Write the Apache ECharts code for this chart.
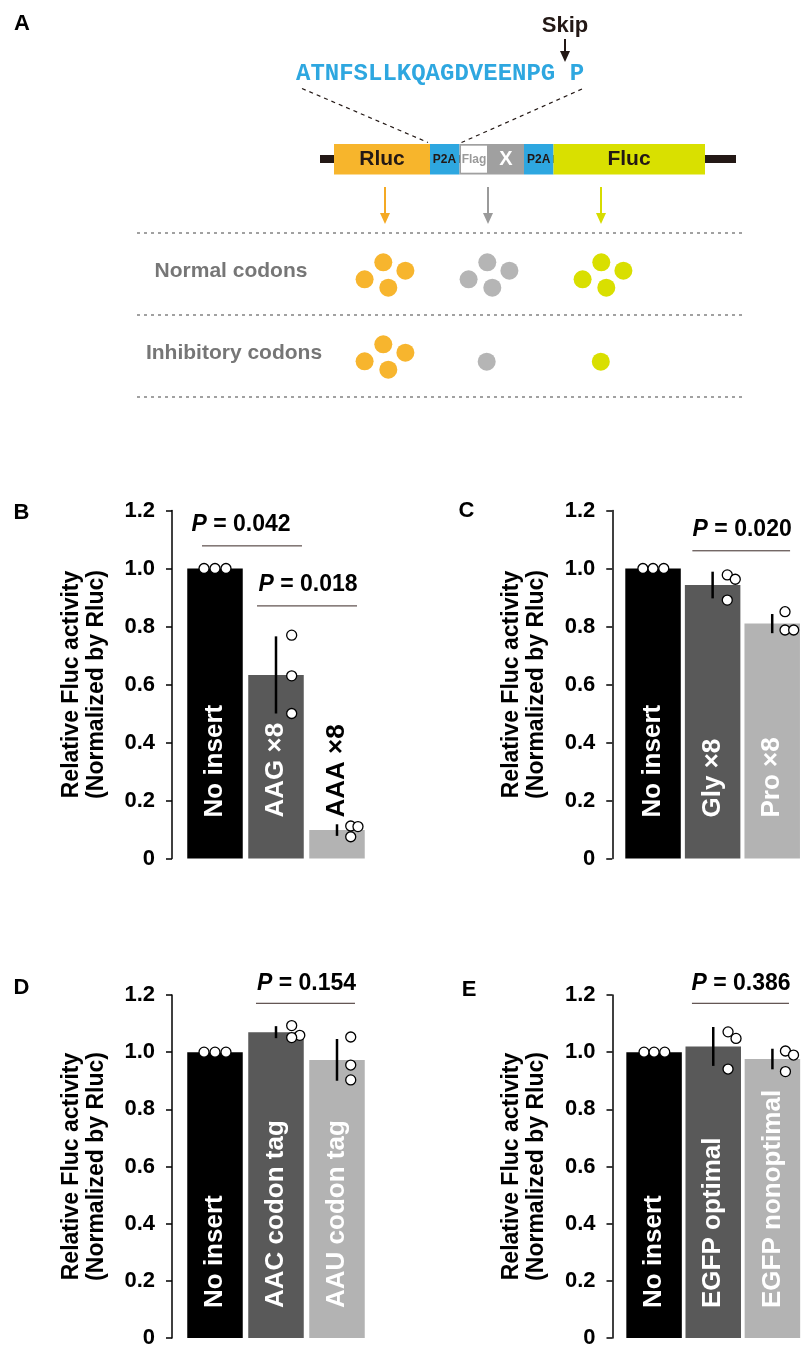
<!DOCTYPE html>
<html><head><meta charset="utf-8">
<script src="https://cdn.jsdelivr.net/npm/echarts@6/dist/echarts.min.js"></script>
<style>html,body{margin:0;padding:0;background:#fff}#c{width:802px;height:1349px}</style>
</head><body><div id="c"></div>
<script>
// ---------- DATA ----------
const catsB = ['No insert', 'AAG ×8', 'AAA ×8'];
const meanB = [1.0, 0.633, 0.098];
const sdB   = [0, 0.133, 0.02];
const repsB = [[1.0, 1.0, 1.0], [0.77, 0.63, 0.50], [0.112, 0.11, 0.075]];
const pB    = ['0.042', '0.018'];

const catsC = ['No insert', 'Gly ×8', 'Pro ×8'];
const meanC = [1.0, 0.943, 0.81];
const sdC   = [0, 0.046, 0.033];
const repsC = [[1.0, 1.0, 1.0], [0.978, 0.963, 0.891], [0.851, 0.788, 0.788]];
const pC    = ['0.020'];

const catsD = ['No insert', 'AAC codon tag', 'AAU codon tag'];
const meanD = [1.0, 1.07, 0.973];
const sdD   = [0, 0.021, 0.073];
const repsD = [[1.0, 1.0, 1.0], [1.093, 1.059, 1.051], [1.053, 0.955, 0.903]];
const pD    = ['0.154'];

const catsE = ['No insert', 'EGFP optimal', 'EGFP nonoptimal'];
const meanE = [1.0, 1.02, 0.976];
const sdE   = [0, 0.068, 0.036];
const repsE = [[1.0, 1.0, 1.0], [1.071, 1.048, 0.941], [1.004, 0.990, 0.932]];
const pE    = ['0.386'];

const yTicks = { min: 0, max: 1.2, interval: 0.2 };
const yName = 'Relative Fluc activity\n(Normalized by Rluc)';

// ---------- LAYOUT ----------
const FONT = '"Liberation Sans", Arial, Helvetica, sans-serif';
const barColors = ['#000000', '#595959', '#b3b3b3'];
const jitB = [[-0.18, 0, 0.18], [0.257, 0.257, 0.257], [0.225, 0.344, 0.225]];
const jitC = [[-0.17, 0, 0.18], [0.246, 0.38, 0.246], [0.215, 0.215, 0.36]];
const jitD = [[-0.18, 0, 0.18], [0.257, 0.39, 0.257], [0.225, 0.225, 0.225]];
const jitE = [[-0.17, 0, 0.18], [0.25, 0.385, 0.25], [0.22, 0.357, 0.22]];
const annB = [[-0.213, 1.426, 1.078, 1.15, 0.427], [0.689, 2.328, 0.871, 0.943, 1.525]];
const annC = [[0.66, 2.30, 1.061, 1.133, 1.496]];
const annD = [[0.672, 2.295, 1.171, 1.240, 1.5]];
const annE = [[0.64, 2.28, 1.171, 1.241, 1.47]];

const panels = [
  { cats: catsB, mean: meanB, sd: sdB, reps: repsB, p: pB, jit: jitB, ann: annB, left: 184.5, top: 510.5, offset: 12.5, labelDist: 41, letter: 'B', lx: 21.5, ly: 512.5 },
  { cats: catsC, mean: meanC, sd: sdC, reps: repsC, p: pC, jit: jitC, ann: annC, left: 623.25, top: 510.5, offset: 11, labelDist: 41, letter: 'C', lx: 466.5, ly: 511 },
  { cats: catsD, mean: meanD, sd: sdD, reps: repsD, p: pD, jit: jitD, ann: annD, left: 184.5, top: 995, offset: 12.5, labelDist: 30, letter: 'D', lx: 21.5, ly: 988 },
  { cats: catsE, mean: meanE, sd: sdE, reps: repsE, p: pE, jit: jitE, ann: annE, left: 624.5, top: 995, offset: 12, labelDist: 30, letter: 'E', lx: 469, ly: 990 }
];

const grid = [], xAxis = [], yAxis = [], series = [];
panels.forEach((P, i) => {
  grid.push({ left: P.left, top: P.top, width: 183, height: 348, containLabel: false });
  xAxis.push({ gridIndex: i, type: 'category', data: P.cats, show: false });
  xAxis.push({ gridIndex: i, type: 'value', min: -0.5, max: 2.5, show: false });
  yAxis.push({
    gridIndex: i, type: 'value', min: yTicks.min, max: yTicks.max, interval: yTicks.interval,
    offset: P.offset, position: 'left',
    axisLine: { show: true, onZero: false, lineStyle: { color: '#000', width: 1.5 } },
    axisTick: { show: true, inside: false, length: 6, lineStyle: { color: '#000', width: 1.5 } },
    splitLine: { show: false },
    axisLabel: { margin: 17, color: '#000', fontSize: 22, fontWeight: 'bold', fontFamily: FONT,
      formatter: v => (Math.abs(v) < 1e-9 ? '0' : v.toFixed(1)) },
    name: yName, nameLocation: 'middle', nameGap: 63,
    nameTextStyle: { fontSize: 23, fontWeight: 'bold', lineHeight: 25, color: '#000', fontFamily: FONT }
  });
  series.push({
    type: 'bar', xAxisIndex: 2 * i, yAxisIndex: i, barWidth: 55.5, silent: true,
    data: P.mean.map((v, j) => ({ value: v, itemStyle: { color: barColors[j] },
      label: { color: v < 0.3 ? '#000' : '#fff' } })),
    label: { show: true, position: 'insideBottom', distance: P.labelDist, rotate: 90,
      align: 'left', verticalAlign: 'middle', fontSize: 26, fontWeight: 'bold', fontFamily: FONT,
      formatter: p => P.cats[p.dataIndex] },
    z: 2
  });
  series.push({
    type: 'custom', xAxisIndex: 2 * i + 1, yAxisIndex: i, silent: true, z: 3,
    data: P.mean.map((m, j) => [j, m, P.sd[j]]),
    renderItem: (params, api) => {
      const s = api.value(2);
      if (!s) return null;
      const a = api.coord([api.value(0), api.value(1) - s]);
      const b = api.coord([api.value(0), api.value(1) + s]);
      return { type: 'line', shape: { x1: a[0], y1: a[1], x2: b[0], y2: b[1] },
        style: { stroke: '#000', lineWidth: 2.5 } };
    }
  });
  const pts = [];
  P.reps.forEach((arr, j) => arr.forEach((v, k) => pts.push([j + P.jit[j][k], v])));
  series.push({
    type: 'scatter', xAxisIndex: 2 * i + 1, yAxisIndex: i, silent: true, z: 4,
    symbol: 'circle', symbolSize: 10, data: pts,
    itemStyle: { color: '#fff', borderColor: '#000', borderWidth: 1.3, opacity: 1 }
  });
  series.push({
    type: 'custom', xAxisIndex: 2 * i + 1, yAxisIndex: i, silent: true, z: 5, clip: false,
    data: P.p.map((pv, k) => [k]),
    renderItem: (params, api) => {
      const k = params.dataIndex;
      const A = P.ann[k];
      const l1 = api.coord([A[0], A[2]]);
      const l2 = api.coord([A[1], A[2]]);
      const t = api.coord([A[4], A[3]]);
      return { type: 'group', children: [
        { type: 'line', shape: { x1: l1[0], y1: l1[1], x2: l2[0], y2: l2[1] },
          style: { stroke: '#3a2825', lineWidth: 1 } },
        { type: 'text', x: t[0], y: t[1], style: {
          text: '{i|P} = ' + P.p[k],
          rich: { i: { fontStyle: 'italic', fontWeight: 'bold', fontSize: 23, fontFamily: FONT, fill: '#000' } },
          fontSize: 23, fontWeight: 'bold', fontFamily: FONT, fill: '#000',
          align: 'center', verticalAlign: 'middle' } }
      ] };
    }
  });
});

// ---------- PANEL A diagram + letters ----------
function txt(x, y, s, size, color, extra) {
  return { type: 'text', x: x, y: y, silent: true, style: Object.assign({
    text: s, fontSize: size, fontWeight: 'bold', fontFamily: FONT, fill: color,
    align: 'center', verticalAlign: 'middle', textAlign: 'center', textVerticalAlign: 'middle' }, extra || {}) };
}
function rect(x, y, w, h, fill) {
  return { type: 'rect', silent: true, shape: { x: x, y: y, width: w, height: h }, style: { fill: fill } };
}
function line(x1, y1, x2, y2, stroke, w, dash) {
  return { type: 'line', silent: true, shape: { x1: x1, y1: y1, x2: x2, y2: y2 }, style: { stroke: stroke, lineWidth: w, lineDash: dash || null } };
}
function arrow(x, y1, y2, color) {
  return [line(x, y1, x, y2 - 8, color, 2),
    { type: 'polygon', silent: true, shape: { points: [[x - 5, y2 - 11], [x + 5, y2 - 11], [x, y2]] }, style: { fill: color } }];
}
const ORANGE = '#F7B52C', BLUE = '#2EA7E0', GREY = '#A0A0A0', LIME = '#D9E000', DARK = '#231815';
const dotOrange = '#F7B52E', dotGrey = '#B5B5B5', dotLime = '#D9DF00';
const cluster = [[-20.4, 4.3], [-1.7, -12.7], [20.4, -4.3], [3.3, 12.7]];
const g = [];
g.push(txt(22, 24, 'A', 22, '#000'));
panels.forEach(P => g.push(txt(P.lx, P.ly, P.letter, 22, '#000')));
g.push(txt(565, 26, 'Skip', 22, DARK));
arrow(565, 39, 62, DARK).forEach(e => g.push(e));
g.push(txt(296, 74, 'ATNFSLLKQAGDVEENPG P', 24, BLUE, { fontFamily: '"Liberation Mono", "Courier New", monospace', align: 'left', textAlign: 'left' }));
g.push(line(302, 88.5, 428, 142.5, DARK, 1.2, [4, 4]));
g.push(line(582, 89, 461.5, 142.5, DARK, 1.2, [4, 4]));
g.push(rect(320, 155, 416, 8, DARK));
g.push(rect(334, 144, 96, 30.5, ORANGE));
g.push(rect(430, 144, 29.5, 30.5, BLUE));
g.push(rect(459.5, 144, 64.5, 30.5, GREY));
g.push(rect(461, 145.7, 26, 27, '#FFFFFF'));
g.push(rect(524, 144, 29.5, 30.5, BLUE));
g.push(rect(553.5, 144, 151.5, 30.5, LIME));
g.push(txt(382, 159.5, 'Rluc', 21, DARK));
g.push(txt(444.5, 160, 'P2A', 12, DARK));
g.push(txt(474, 160, 'Flag', 12, '#9a9a9a'));
g.push(txt(506, 159.5, 'X', 20, '#fff'));
g.push(txt(538.7, 160, 'P2A', 12, DARK));
g.push(txt(629, 159.5, 'Fluc', 21, DARK));
arrow(385, 187, 224, '#F4A924').forEach(e => g.push(e));
arrow(488, 187, 224, '#9a9a9a').forEach(e => g.push(e));
arrow(601, 187, 224, '#D6DC00').forEach(e => g.push(e));
[233, 315, 397].forEach(y => g.push(line(137, y, 745, y, '#444', 1.2, [3, 4])));
g.push(txt(231, 271, 'Normal codons', 21, '#767676'));
g.push(txt(234, 353, 'Inhibitory codons', 21, '#767676'));
[[385, dotOrange], [489, dotGrey], [603, dotLime]].forEach(function (c) {
  cluster.forEach(o => g.push({ type: 'circle', silent: true, shape: { cx: c[0] + o[0], cy: 275 + o[1], r: 9 }, style: { fill: c[1] } }));
});
cluster.forEach(o => g.push({ type: 'circle', silent: true, shape: { cx: 385 + o[0], cy: 357 + o[1], r: 9 }, style: { fill: dotOrange } }));
g.push({ type: 'circle', silent: true, shape: { cx: 486.7, cy: 361.7, r: 9 }, style: { fill: dotGrey } });
g.push({ type: 'circle', silent: true, shape: { cx: 600.8, cy: 361.7, r: 9 }, style: { fill: dotLime } });

const chart = echarts.init(document.getElementById('c'), null, { renderer: 'canvas' });
chart.setOption({
  animation: false,
  backgroundColor: '#fff',
  grid: grid, xAxis: xAxis, yAxis: yAxis, series: series,
  graphic: { elements: g }
});
</script>
</body></html>
